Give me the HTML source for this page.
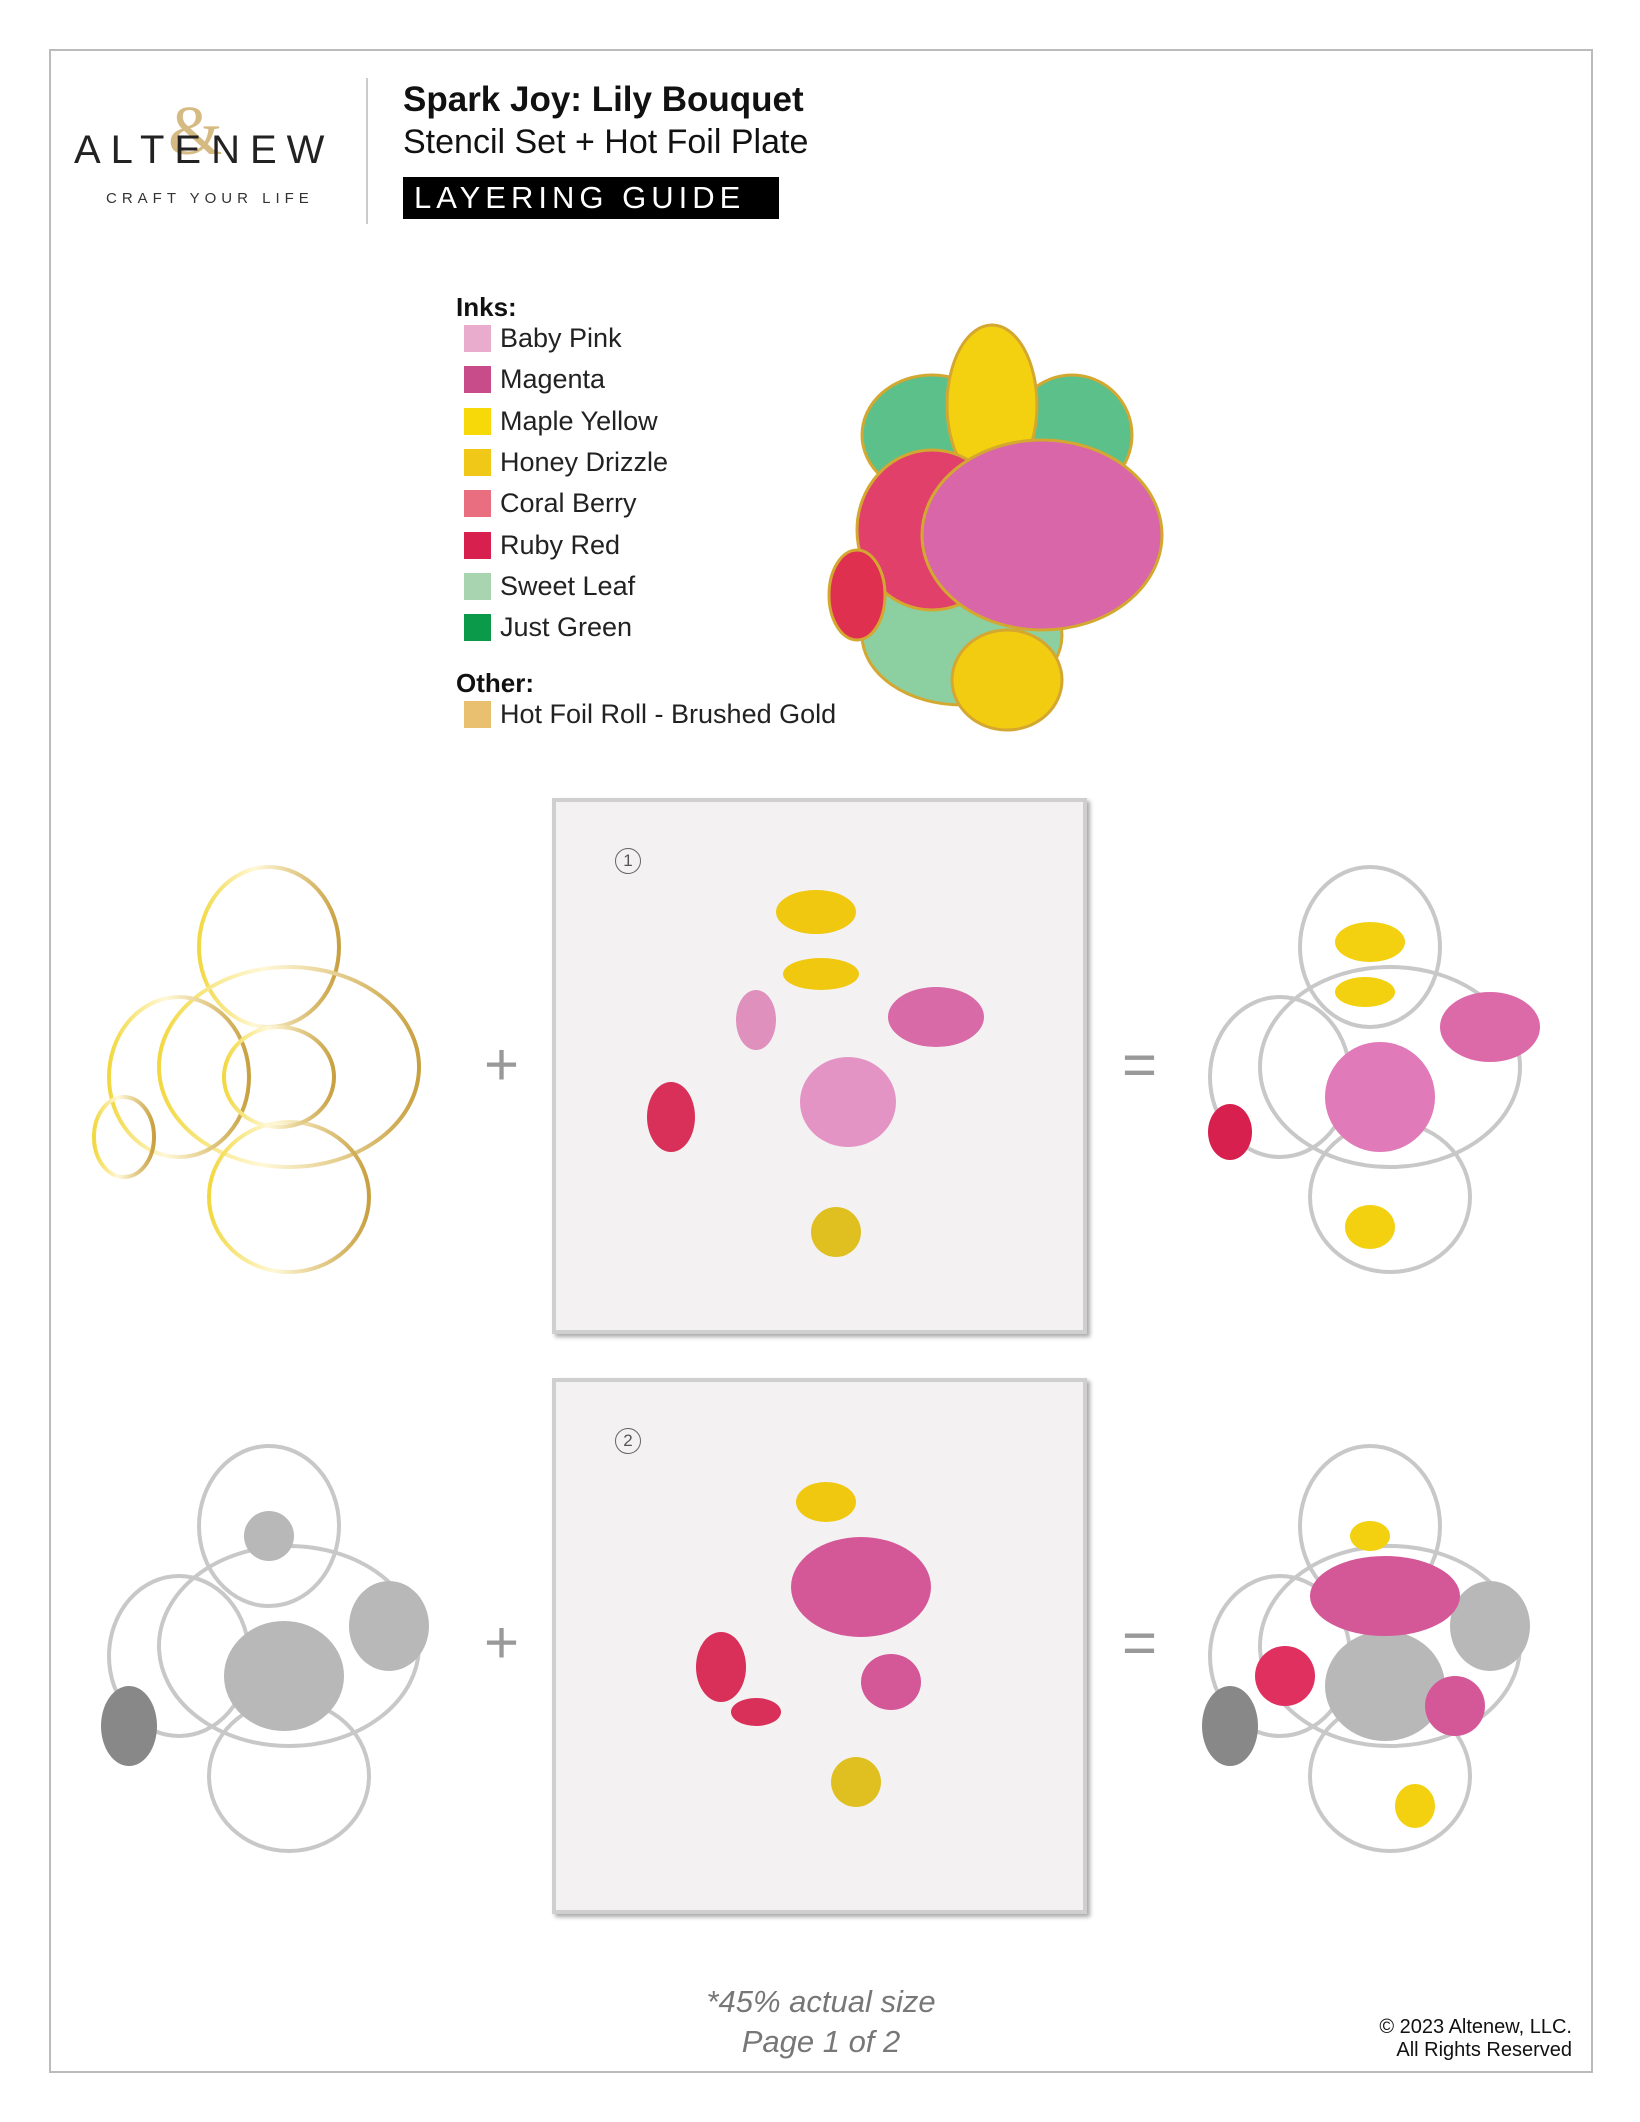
<!DOCTYPE html>
<html><head><meta charset="utf-8"><style>
body{margin:0;width:1640px;height:2122px;background:#fff;position:relative;font-family:"Liberation Sans",sans-serif;overflow:hidden}
.a{position:absolute}
.sw{position:absolute;left:464px;width:27px;height:27px}
.it{position:absolute;left:500px;font-size:27px;color:#222;line-height:30px}
.panel{position:absolute;left:552px;width:535px;height:536px;background:#f3f1f2;border:4px solid #cfcfcf;box-sizing:border-box;box-shadow:3px 3px 4px #aaa}
.op{position:absolute;font-size:60px;color:#999;font-weight:300}
</style></head><body>
<div class="a" style="left:49px;top:49px;width:1540px;height:2020px;border:2px solid #bbb"></div>
<div class="a" style="left:168px;top:92px;font-size:70px;color:#c9a45a;opacity:.75;font-family:'Liberation Serif',serif">&amp;</div>
<div class="a" style="left:74px;top:128px;font-size:40px;letter-spacing:10px;color:#222">ALTENEW</div>
<div class="a" style="left:106px;top:190px;font-size:15px;letter-spacing:5px;color:#333">CRAFT YOUR LIFE</div>
<div class="a" style="left:366px;top:78px;width:2px;height:146px;background:#ccc"></div>
<div class="a" style="left:403px;top:80px;font-size:35px;font-weight:bold;color:#111">Spark Joy: Lily Bouquet</div>
<div class="a" style="left:403px;top:123px;font-size:34px;color:#111">Stencil Set + Hot Foil Plate</div>
<div class="a" style="left:403px;top:177px;width:376px;height:42px;background:#000;color:#fff;font-size:31px;letter-spacing:5px;line-height:42px;text-indent:11px">LAYERING GUIDE</div>
<div class="a" style="left:456px;top:292px;font-size:26px;font-weight:bold;color:#111">Inks:</div>
<div class="sw" style="top:325px;background:#eaaccd"></div><div class="it" style="top:323px">Baby Pink</div>
<div class="sw" style="top:366px;background:#c94c8a"></div><div class="it" style="top:364px">Magenta</div>
<div class="sw" style="top:408px;background:#f7d808"></div><div class="it" style="top:406px">Maple Yellow</div>
<div class="sw" style="top:449px;background:#f0c818"></div><div class="it" style="top:447px">Honey Drizzle</div>
<div class="sw" style="top:490px;background:#e86e80"></div><div class="it" style="top:488px">Coral Berry</div>
<div class="sw" style="top:532px;background:#d8204f"></div><div class="it" style="top:530px">Ruby Red</div>
<div class="sw" style="top:573px;background:#a8d4b0"></div><div class="it" style="top:571px">Sweet Leaf</div>
<div class="sw" style="top:614px;background:#0a9a4a"></div><div class="it" style="top:612px">Just Green</div>
<div class="a" style="left:456px;top:668px;font-size:26px;font-weight:bold;color:#111">Other:</div>
<div class="sw" style="top:701px;background:#e8c070"></div><div class="it" style="top:699px">Hot Foil Roll - Brushed Gold</div>

<svg class="a" style="left:822px;top:315px" width="360" height="420" viewBox="0 0 360 420">
<g stroke="#d4a830" stroke-width="3">
<ellipse cx="110" cy="120" rx="70" ry="60" fill="#5cc08a"/>
<ellipse cx="250" cy="120" rx="60" ry="60" fill="#5cc08a"/>
<ellipse cx="140" cy="320" rx="100" ry="70" fill="#8ccfa0"/>
<ellipse cx="170" cy="90" rx="45" ry="80" fill="#f3d010"/>
<ellipse cx="110" cy="215" rx="75" ry="80" fill="#e0406a"/>
<ellipse cx="35" cy="280" rx="28" ry="45" fill="#e03050"/>
<ellipse cx="220" cy="220" rx="120" ry="95" fill="#d866a8"/>
<ellipse cx="185" cy="365" rx="55" ry="50" fill="#f2cc10"/>
</g></svg>

<svg class="a" style="left:89px;top:857px" width="360" height="420" viewBox="0 0 360 420">
<defs><linearGradient id="g" x1="0" x2="1"><stop offset="0" stop-color="#f2d840"/><stop offset=".4" stop-color="#fff8d8"/><stop offset="1" stop-color="#c8a040"/></linearGradient></defs>
<g fill="none" stroke="url(#g)" stroke-width="4">
<ellipse cx="180" cy="90" rx="70" ry="80"/><ellipse cx="200" cy="210" rx="130" ry="100"/>
<ellipse cx="90" cy="220" rx="70" ry="80"/><ellipse cx="35" cy="280" rx="30" ry="40"/>
<ellipse cx="200" cy="340" rx="80" ry="75"/><ellipse cx="190" cy="220" rx="55" ry="50"/></g></svg>

<svg class="a" style="left:89px;top:1436px" width="360" height="420" viewBox="0 0 360 420">
<g fill="none" stroke="#c8c8c8" stroke-width="4">
<ellipse cx="180" cy="90" rx="70" ry="80"/><ellipse cx="200" cy="210" rx="130" ry="100"/>
<ellipse cx="90" cy="220" rx="70" ry="80"/><ellipse cx="200" cy="340" rx="80" ry="75"/></g>
<g fill="#b8b8b8"><ellipse cx="195" cy="240" rx="60" ry="55"/><ellipse cx="300" cy="190" rx="40" ry="45"/><ellipse cx="40" cy="290" rx="28" ry="40" fill="#888"/><ellipse cx="180" cy="100" rx="25" ry="25"/></g></svg>

<svg class="a" style="left:1190px;top:857px" width="360" height="420" viewBox="0 0 360 420">
<g fill="none" stroke="#c8c8c8" stroke-width="4">
<ellipse cx="180" cy="90" rx="70" ry="80"/><ellipse cx="200" cy="210" rx="130" ry="100"/>
<ellipse cx="90" cy="220" rx="70" ry="80"/><ellipse cx="200" cy="340" rx="80" ry="75"/></g>
<g><ellipse cx="180" cy="85" rx="35" ry="20" fill="#f3d010"/><ellipse cx="175" cy="135" rx="30" ry="15" fill="#f3d010"/>
<ellipse cx="190" cy="240" rx="55" ry="55" fill="#e07ab8"/><ellipse cx="300" cy="170" rx="50" ry="35" fill="#dc6aa8"/>
<ellipse cx="40" cy="275" rx="22" ry="28" fill="#d8204f"/><ellipse cx="180" cy="370" rx="25" ry="22" fill="#f3d010"/></g></svg>

<svg class="a" style="left:1190px;top:1436px" width="360" height="420" viewBox="0 0 360 420">
<g fill="none" stroke="#c8c8c8" stroke-width="4">
<ellipse cx="180" cy="90" rx="70" ry="80"/><ellipse cx="200" cy="210" rx="130" ry="100"/>
<ellipse cx="90" cy="220" rx="70" ry="80"/><ellipse cx="200" cy="340" rx="80" ry="75"/></g>
<g><ellipse cx="195" cy="250" rx="60" ry="55" fill="#b8b8b8"/><ellipse cx="300" cy="190" rx="40" ry="45" fill="#b8b8b8"/>
<ellipse cx="195" cy="160" rx="75" ry="40" fill="#d45898"/><ellipse cx="265" cy="270" rx="30" ry="30" fill="#d45898"/>
<ellipse cx="95" cy="240" rx="30" ry="30" fill="#e03060"/><ellipse cx="40" cy="290" rx="28" ry="40" fill="#888"/>
<ellipse cx="180" cy="100" rx="20" ry="15" fill="#f3d010"/><ellipse cx="225" cy="370" rx="20" ry="22" fill="#f3d010"/></g></svg>

<div class="panel" style="top:798px">
<div class="a" style="left:59px;top:46px;width:24px;height:24px;border:1.5px solid #666;border-radius:50%;font-size:17px;text-align:center;line-height:24px;color:#555">1</div>
<svg class="a" style="left:0;top:0" width="530" height="530">
<ellipse cx="260" cy="110" rx="40" ry="22" fill="#f0c810"/><ellipse cx="265" cy="172" rx="38" ry="16" fill="#f0c810"/>
<ellipse cx="200" cy="218" rx="20" ry="30" fill="#e090bc"/><ellipse cx="292" cy="300" rx="48" ry="45" fill="#e494c4"/>
<ellipse cx="380" cy="215" rx="48" ry="30" fill="#d86aa8"/><ellipse cx="115" cy="315" rx="24" ry="35" fill="#d83058"/>
<ellipse cx="280" cy="430" rx="25" ry="25" fill="#e0c020"/></svg></div>
<div class="panel" style="top:1378px">
<div class="a" style="left:59px;top:46px;width:24px;height:24px;border:1.5px solid #666;border-radius:50%;font-size:17px;text-align:center;line-height:24px;color:#555">2</div>
<svg class="a" style="left:0;top:0" width="530" height="530">
<ellipse cx="270" cy="120" rx="30" ry="20" fill="#f0c810"/><ellipse cx="305" cy="205" rx="70" ry="50" fill="#d45898"/>
<ellipse cx="335" cy="300" rx="30" ry="28" fill="#d45898"/><ellipse cx="165" cy="285" rx="25" ry="35" fill="#d83058"/>
<ellipse cx="200" cy="330" rx="25" ry="14" fill="#d83058"/><ellipse cx="300" cy="400" rx="25" ry="25" fill="#e0c020"/></svg></div>

<div class="op" style="left:484px;top:1030px">+</div>
<div class="op" style="left:484px;top:1608px">+</div>
<div class="op" style="left:1122px;top:1030px">=</div>
<div class="op" style="left:1122px;top:1608px">=</div>

<div class="a" style="left:600px;top:1982px;width:442px;text-align:center;font-size:31px;font-style:italic;color:#777;line-height:40px">*45% actual size<br>Page 1 of 2</div>
<div class="a" style="left:1300px;top:2016px;width:272px;text-align:right;font-size:20px;color:#111;line-height:23px">© 2023 Altenew, LLC.<br>All Rights Reserved</div>
</body></html>
